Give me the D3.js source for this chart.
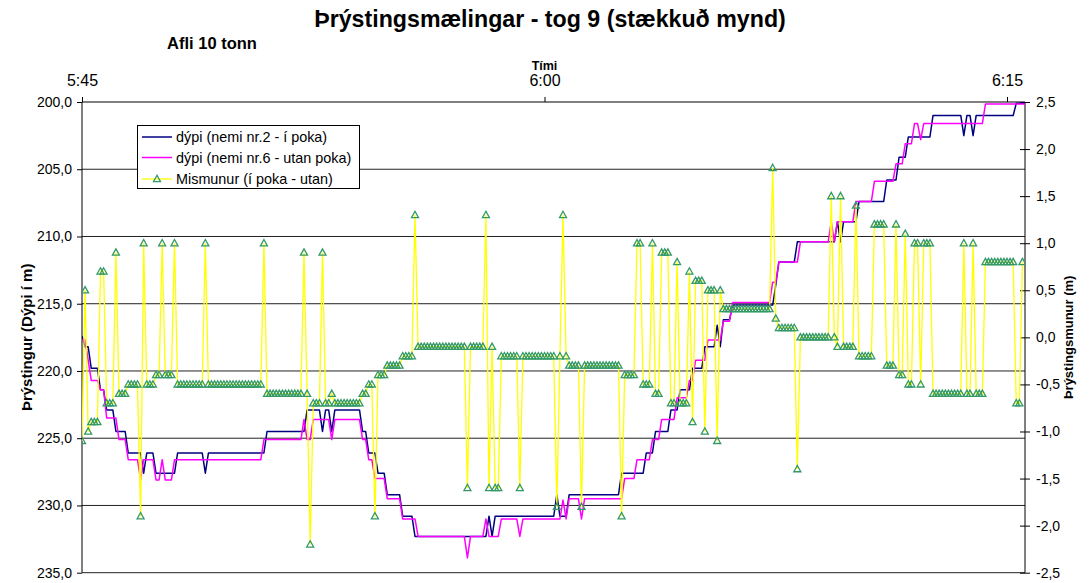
<!DOCTYPE html>
<html><head><meta charset="utf-8">
<script src="https://cdn.jsdelivr.net/npm/d3@7"></script>
<style>
body{margin:0;background:#fff}
svg{display:block}
text{font-family:"Liberation Sans",Arial,sans-serif;fill:#000}
</style>
</head><body>
<svg id="c" width="1089" height="583"></svg>
<script>
// ---- data ----
const titleText = "Þrýstingsmælingar - tog 9 (stækkuð mynd)";
const subtitleText = "Afli 10 tonn";
const timeTicks = [0, 900, 1800];            // seconds after 5:45:00
const timeTickLabels = ["5:45", "6:00", "6:15"];
const sampleStep = 6;                         // seconds between samples
const depthTicks = [200, 205, 210, 215, 220, 225, 230, 235];
const diffTicks = [2.5, 2, 1.5, 1, 0.5, 0, -0.5, -1, -1.5, -2, -2.5];
const seriesNames = ["dýpi (nemi nr.2 - í poka)", "dýpi (nemi nr.6 - utan poka)", "Mismunur (í poka - utan)"];

// [sample index, depth m] vertices of nemi nr.2 (í poka)
const dypi2 = [[0,217.4],[1,218.2],[2,218.2],[3,219.8],[5,219.8],[6,221.4],[7,221.4],[8,222.9],[10,222.9],[11,224.5],[14,224.5],[15,226.1],[19,226.1],[20,227.6],[21,226.1],[23,226.1],[24,227.6],[30,227.6],[31,226.1],[39,226.1],[40,227.6],[41,226.1],[59,226.1],[60,224.5],[72,224.5],[73,222.9],[77,222.9],[78,224.5],[79,222.9],[80,222.9],[81,224.5],[82,222.9],[90,222.9],[91,224.5],[92,224.5],[93,226.1],[95,226.1],[96,227.6],[98,227.6],[99,229.2],[103,229.2],[104,230.8],[107,230.8],[108,232.3],[131,232.3],[132,230.8],[133,232.3],[134,230.8],[153,230.8],[154,229.2],[155,230.8],[157,230.8],[158,229.2],[174,229.2],[175,227.6],[182,227.6],[183,226.1],[185,226.1],[186,224.5],[190,224.5],[191,222.9],[193,222.9],[194,221.4],[197,221.4],[198,219.8],[201,219.8],[202,218.2],[205,218.2],[206,216.6],[207,218.2],[208,216.2],[210,216.2],[211,215.1],[224,215.1],[225,213.6],[226,211.9],[231,211.9],[232,210.4],[244,210.4],[245,208.9],[246,210.4],[247,208.9],[251,208.9],[252,207.4],[260,207.4],[261,205.8],[264,205.8],[265,204.1],[267,204.1],[268,202.6],[275,202.6],[276,201.0],[285,201.0],[286,202.5],[287,201.0],[288,201.0],[289,202.5],[290,201.0],[302,201.0],[303,200.1],[306,200.1]];

// [sample index, depth m] vertices of nemi nr.6 (utan poka)
const dypi6 = [[0,217.7],[1,217.7],[2,219.2],[3,220.7],[5,220.7],[6,221.4],[7,221.4],[8,223.5],[11,223.5],[12,225.1],[14,225.1],[15,226.6],[18,226.6],[19,228.1],[20,226.6],[23,226.6],[24,228.1],[25,228.1],[26,226.6],[27,228.1],[29,228.1],[30,226.6],[58,226.6],[59,225.1],[71,225.1],[72,223.6],[73,225.1],[74,225.1],[75,223.6],[80,223.6],[81,225.1],[82,223.6],[90,223.6],[91,225.1],[92,225.1],[93,226.6],[94,226.6],[95,228.0],[98,228.0],[99,229.5],[103,229.5],[104,231.0],[108,231.0],[109,232.3],[124,232.3],[125,233.9],[126,232.3],[130,232.3],[131,231.0],[132,232.3],[135,232.3],[136,231.0],[141,231.0],[142,232.3],[143,231.0],[155,231.0],[156,229.6],[157,231.0],[158,229.5],[161,229.5],[162,231.0],[163,229.5],[175,229.5],[176,228.0],[179,228.0],[180,226.6],[184,226.6],[185,225.1],[187,225.1],[188,223.6],[192,223.6],[193,222.0],[196,222.0],[197,220.7],[198,220.7],[199,219.2],[202,219.2],[203,217.7],[207,217.7],[208,216.3],[210,216.3],[211,214.9],[223,214.9],[224,213.4],[225,213.4],[226,211.9],[232,211.9],[233,210.4],[242,210.4],[243,208.9],[244,210.4],[245,208.9],[250,208.9],[251,207.4],[256,207.4],[257,205.9],[263,205.9],[264,204.6],[266,204.6],[267,203.1],[269,203.1],[270,201.6],[271,201.6],[272,202.8],[273,201.6],[292,201.6],[293,200.15],[306,200.15]];

// difference (m), one value per sample
const mismunur = [
 -1.1, 0.5,-1.0,-0.9,-0.9,-0.9, 0.7, 0.7,-0.7,-0.7,
 -0.7, 0.9,-0.6,-0.6,-0.6,-0.5,-0.5,-0.5,-0.5,-1.9,
  1.0,-0.5,-0.5,-0.5,-0.4,-0.4, 1.0,-0.4,-0.4,-0.4,
  1.0,-0.5,-0.5,-0.5,-0.5,-0.5,-0.5,-0.5,-0.5,-0.5,
  1.0,-0.5,-0.5,-0.5,-0.5,-0.5,-0.5,-0.5,-0.5,-0.5,
 -0.5,-0.5,-0.5,-0.5,-0.5,-0.5,-0.5,-0.5,-0.5, 1.0,
 -0.6,-0.6,-0.6,-0.6,-0.6,-0.6,-0.6,-0.6,-0.6,-0.6,
 -0.6,-0.6, 0.9,-0.6,-2.2,-0.7,-0.7,-0.7, 0.9,-0.7,
 -0.7,-0.6,-0.7,-0.7,-0.7,-0.7,-0.7,-0.7,-0.7,-0.7,
 -0.7,-0.6,-0.6,-0.5,-0.5,-1.9,-0.4,-0.4,-0.4,-0.3,
 -0.3,-0.3,-0.3,-0.3,-0.2,-0.2,-0.2,-0.2, 1.3,-0.1,
 -0.1,-0.1,-0.1,-0.1,-0.1,-0.1,-0.1,-0.1,-0.1,-0.1,
 -0.1,-0.1,-0.1,-0.1,-0.1,-1.6,-0.1,-0.1,-0.1,-0.1,
 -0.1, 1.3,-1.6,-0.1,-1.6,-1.6,-0.2,-0.2,-0.2,-0.2,
 -0.2,-0.2,-1.6,-0.2,-0.2,-0.2,-0.2,-0.2,-0.2,-0.2,
 -0.2,-0.2,-0.2,-0.2,-1.8,-0.2, 1.3,-0.2,-0.3,-0.3,
 -0.3,-0.3,-1.8,-0.3,-0.3,-0.3,-0.3,-0.3,-0.3,-0.3,
 -0.3,-0.3,-0.3,-0.3,-0.3,-1.9,-0.4,-0.4,-0.4,-0.4,
  1.0, 1.0,-0.5,-0.5,-0.5, 1.0,-0.6,-0.6, 0.9, 0.9,
  0.9,-0.7,-0.7, 0.8,-0.7,-0.7,-0.7, 0.7,-0.9, 0.6,
  0.6, 0.6,-1.0, 0.5, 0.5, 0.5,-1.1, 0.5, 0.3, 0.3,
  0.3, 0.3, 0.3, 0.3, 0.3, 0.3, 0.3, 0.3, 0.3, 0.3,
  0.3, 0.3, 0.3, 0.3, 1.8, 0.2, 0.1, 0.1, 0.1, 0.1,
  0.1, 0.1,-1.4, 0.0, 0.0, 0.0, 0.0, 0.0, 0.0, 0.0,
  0.0, 0.0, 0.0, 1.5, 0.0,-0.1, 1.5,-0.1,-0.1,-0.1,
 -0.1, 1.4,-0.2,-0.2,-0.2,-0.2,-0.2, 1.2, 1.2, 1.2,
  1.2,-0.3,-0.3,-0.3, 1.2,-0.4,-0.4, 1.1,-0.5,-0.5,
  1.0, 1.0,-0.5, 1.0, 1.0, 1.0,-0.6,-0.6,-0.6,-0.6,
 -0.6,-0.6,-0.6,-0.6,-0.6,-0.6, 1.0,-0.6,-0.6, 1.0,
 -0.6,-0.6,-0.6, 0.8, 0.8, 0.8, 0.8, 0.8, 0.8, 0.8,
  0.8, 0.8, 0.8,-0.7,-0.7, 0.8
];

// ---- layout ----
const svg = d3.select("#c");
const L = 82, R = 1025, T = 102, B = 572.7;
const x = d3.scaleLinear().domain([0, 1835]).range([L, R]);
const yL = d3.scaleLinear().domain([200, 235]).range([T, B]);
const yR = d3.scaleLinear().domain([-2.5, 2.5]).range([B, T]);
const fmt = v => d3.format(".1f")(v).replace(".", ",").replace("\u2212", "-");

// title
svg.append("text").attr("x", 550).attr("y", 27).attr("text-anchor", "middle")
  .attr("font-size", 23.2).attr("font-weight", "bold").text(titleText);
svg.append("text").attr("x", 212).attr("y", 48.5).attr("text-anchor", "middle")
  .attr("font-size", 16.5).attr("font-weight", "bold").text(subtitleText);

// gridlines
svg.append("g").selectAll("line").data(depthTicks).join("line")
  .attr("x1", L).attr("x2", R).attr("y1", d => yL(d)).attr("y2", d => yL(d))
  .attr("stroke", d => (d === 200 ? "#000" : "#222")).attr("stroke-width", 1);

// axes lines
svg.append("line").attr("x1", L).attr("x2", L).attr("y1", T).attr("y2", B).attr("stroke", "#000");
svg.append("line").attr("x1", R).attr("x2", R).attr("y1", T).attr("y2", B).attr("stroke", "#000");

// left axis
const gl = svg.append("g").attr("transform", `translate(${L},0)`)
  .call(d3.axisLeft(yL).tickValues(depthTicks).tickFormat(fmt).tickSize(5).tickSizeOuter(0));
gl.select(".domain").remove();
gl.selectAll("text").attr("font-size", 14).attr("font-family", "Liberation Sans, Arial, sans-serif").attr("x", -10);
gl.selectAll("line").attr("stroke", "#000");

// right axis (ticks crossing)
const gr = svg.append("g").attr("transform", `translate(${R},0)`)
  .call(d3.axisRight(yR).tickValues(diffTicks).tickFormat(fmt).tickSize(5).tickSizeOuter(0));
gr.select(".domain").remove();
gr.selectAll(".tick line").attr("x1", -5).attr("x2", 5).attr("stroke", "#000");
gr.selectAll("text").attr("font-size", 14).attr("font-family", "Liberation Sans, Arial, sans-serif").attr("x", 11);

// top time axis
const gt = svg.append("g").attr("transform", `translate(0,${T})`)
  .call(d3.axisTop(x).tickValues(timeTicks).tickFormat((d, i) => timeTickLabels[i]).tickSize(5).tickSizeOuter(0));
gt.select(".domain").remove();
gt.selectAll("line").attr("stroke", "#000");
gt.selectAll("text").attr("font-size", 16).attr("font-family", "Liberation Sans, Arial, sans-serif").attr("y", -16);
svg.append("text").attr("x", x(900)).attr("y", 70).attr("text-anchor", "middle")
  .attr("font-size", 12.5).attr("font-weight", "bold").text("Tími");

// axis titles
svg.append("text").attr("transform", `translate(32,${(T + B) / 2}) rotate(-90)`)
  .attr("text-anchor", "middle").attr("font-size", 15).attr("font-weight", "bold")
  .text("Þrýstingur (Dýpi í m)");
svg.append("text").attr("transform", `translate(1073,${(T + B) / 2}) rotate(-90)`)
  .attr("text-anchor", "middle").attr("font-size", 13).attr("font-weight", "bold")
  .text("Þrýstingsmunur (m)");

// clip
svg.append("clipPath").attr("id", "clip").append("rect")
  .attr("x", L).attr("y", T - 1).attr("width", R - L).attr("height", B - T + 2);
const plot = svg.append("g").attr("clip-path", "url(#clip)");

const lineL = d3.line().x(d => x(d[0] * sampleStep)).y(d => yL(d[1]));
plot.append("path").attr("d", lineL(dypi2)).attr("fill", "none")
  .attr("stroke", "#000080").attr("stroke-width", 1.5).attr("stroke-linejoin", "round");
plot.append("path").attr("d", lineL(dypi6)).attr("fill", "none")
  .attr("stroke", "#ff00ff").attr("stroke-width", 1.5).attr("stroke-linejoin", "round");

const diffPts = mismunur.map((v, i) => [i * sampleStep, v]);
const lineR = d3.line().x(d => x(d[0])).y(d => yR(d[1]));
plot.append("path").attr("d", lineR(diffPts)).attr("fill", "none")
  .attr("stroke", "#ffff00").attr("stroke-width", 1.3);
const tri = "M0,-3.7L3.5,2.6L-3.5,2.6Z";
plot.append("g").selectAll("path").data(diffPts).join("path")
  .attr("d", tri).attr("transform", d => `translate(${x(d[0])},${yR(d[1])})`)
  .attr("fill", "none").attr("stroke", "#339966").attr("stroke-width", 1.3);

// legend
const lg = svg.append("g");
lg.append("rect").attr("x", 137.5).attr("y", 125.5).attr("width", 222).attr("height", 63)
  .attr("fill", "#fff").attr("stroke", "#000");
const rows = [137, 157.5, 179];
const cols = ["#000080", "#ff00ff", "#ffff00"];
seriesNames.forEach((n, i) => {
  lg.append("line").attr("x1", 142).attr("x2", 172).attr("y1", rows[i]).attr("y2", rows[i])
    .attr("stroke", cols[i]).attr("stroke-width", i < 2 ? 1.5 : 1.3);
  lg.append("text").attr("x", 176).attr("y", rows[i]).attr("dy", "0.35em")
    .attr("font-size", 14.4).text(n);
});
lg.append("path").attr("d", tri).attr("transform", `translate(157,${rows[2]})`)
  .attr("fill", "none").attr("stroke", "#339966").attr("stroke-width", 1.3);
</script>
</body></html>
